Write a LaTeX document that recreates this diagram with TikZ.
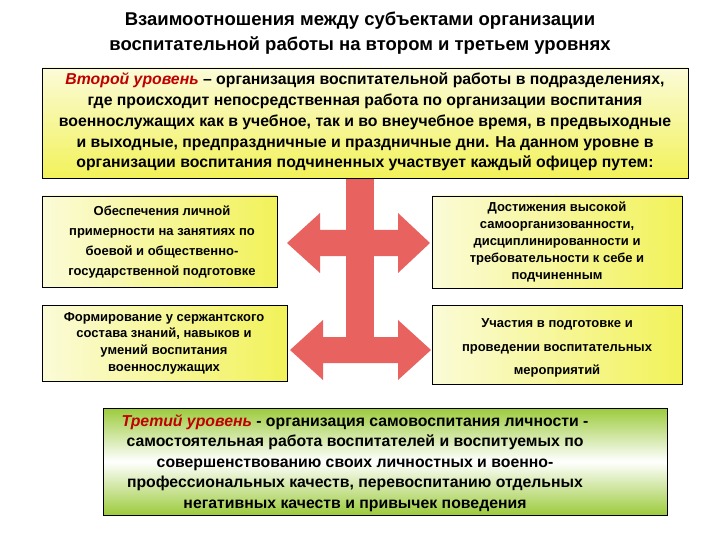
\documentclass[tikz,border=0pt]{standalone}
\usepackage{fontspec}
\setmainfont{Liberation Sans}
\begin{document}
\begin{tikzpicture}[x=1pt,y=-1pt,
  box/.style={draw=black,line width=0.8pt,align=center,inner sep=0pt},
  arr/.style={fill=arrred,draw=none},
  lbl/.style={align=center}]
\definecolor{arrred}{HTML}{E8625F}
\definecolor{yel}{HTML}{F2F25A}
\definecolor{pale}{HTML}{FBFBD8}
\definecolor{grn}{HTML}{9CCB3C}
\definecolor{lvl}{HTML}{C00000}
\useasboundingbox (0,0) rectangle (720,540);
% title
\node[align=center,font=\fontsize{18.5}{25}\selectfont\bfseries] (title) at (360,33)
 {Взаимоотношения между субъектами организации\\воспитательной работы на втором и третьем уровнях};
% arrows
\fill[arrred] (346,178) rectangle (374,362);
\fill[arrred] (287,243) -- (320,213) -- (320,230) -- (398,230) -- (398,213) -- (430,243) -- (398,273) -- (398,256) -- (320,256) -- (320,273) -- cycle;
\fill[arrred] (290,350) -- (323,320) -- (323,337) -- (398,337) -- (398,320) -- (431,350) -- (398,380) -- (398,363) -- (323,363) -- (323,380) -- cycle;
% top box
\shade[top color=pale,bottom color=yel] (42,68) rectangle (688,178);
\draw[line width=0.8pt] (42,68) rectangle (688,178);
\node[align=center,font=\fontsize{15.8}{20.8}\selectfont\bfseries] (top) at (365,122)
 {{\color{lvl}\itshape Второй уровень} – организация воспитательной работы в подразделениях,\\
 где происходит непосредственная работа по организации воспитания\\
 военнослужащих как в учебное, так и во внеучебное время, в предвыходные\\
 и выходные, предпраздничные и праздничные дни. На данном уровне в\\
 организации воспитания подчиненных участвует каждый офицер путем:};
% small boxes
\foreach \n/\a/\b/\c/\d in {l1/42/196/277/287, r1/432/196/682/288, l2/42/305/287/381, r2/432/305/682/384}{
  \shade[left color=pale,right color=yel] (\a,\b) rectangle (\c,\d);
  \draw[line width=0.8pt] (\a,\b) rectangle (\c,\d);
}
\node[lbl,font=\fontsize{13}{20}\selectfont\bfseries] (t1) at (162,242) {Обеспечения личной\\примерности на занятиях по\\боевой и общественно-\\государственной подготовке};
\node[lbl,font=\fontsize{13}{17}\selectfont\bfseries] (t2) at (557,242) {Достижения высокой\\самоорганизованности,\\дисциплинированности и\\требовательности к себе и\\подчиненным};
\node[lbl,font=\fontsize{13}{16.7}\selectfont\bfseries] (t3) at (164,343) {Формирование у сержантского\\состава знаний, навыков и\\умений воспитания\\военнослужащих};
\node[lbl,font=\fontsize{13}{23.5}\selectfont\bfseries] (t4) at (557,348) {Участия в подготовке и\\проведении воспитательных\\мероприятий};
% bottom box
\shade[top color=grn,bottom color=grn,middle color=white] (103,408) rectangle (667,515);
\draw[line width=0.8pt] (103,408) rectangle (667,515);
\node[align=center,font=\fontsize{15.8}{20.5}\selectfont\bfseries] (bot) at (355,463)
 {{\color{lvl}\itshape Третий уровень} - организация самовоспитания личности -\\
 самостоятельная работа воспитателей и воспитуемых по\\
 совершенствованию своих личностных и военно-\\
 профессиональных качеств, перевоспитанию отдельных\\
 негативных качеств и привычек поведения};
\end{tikzpicture}
\end{document}
